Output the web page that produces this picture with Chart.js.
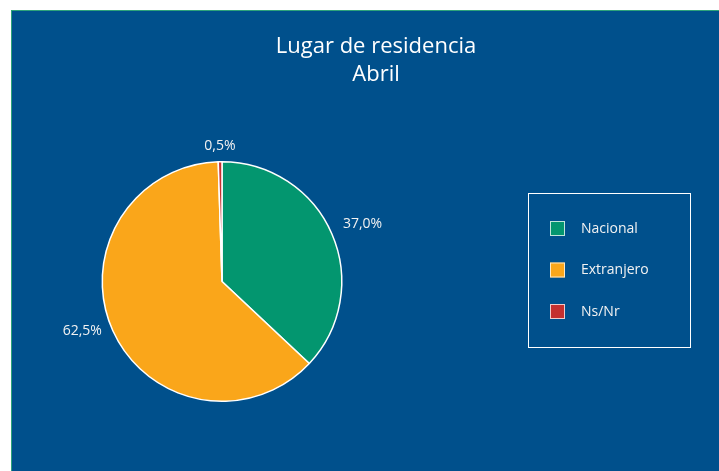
<!DOCTYPE html>
<html>
<head>
<meta charset="utf-8">
<script src="https://cdn.jsdelivr.net/npm/chart.js@4"></script>
<style>
html,body{margin:0;padding:0;background:#fff;}
#wrap{width:719px;height:471px;position:relative;}
</style>
</head>
<body>
<div id="wrap"><canvas id="c"></canvas></div>
<script>
const titleLines = ["Lugar de residencia", "Abril"];
const categories = ["Nacional", "Extranjero", "Ns/Nr"];
const values = [37.0, 62.5, 0.5];
const valueLabels = ["37,0%", "62,5%", "0,5%"];
const colors = ["#03966F", "#FAA61A", "#C4302F"];

const BG = "#00508C";
const FONT = "'Open Sans', 'DejaVu Sans', sans-serif";

const backgroundPlugin = {
  id: "bg",
  beforeDraw(chart) {
    const ctx = chart.ctx;
    const W = chart.width, H = chart.height;
    ctx.save();
    ctx.fillStyle = "#ffffff";
    ctx.fillRect(0, 0, W, H);
    ctx.fillStyle = "#2EA37A";
    ctx.fillRect(11, 10, W - 11, H - 10);
    ctx.fillStyle = BG;
    ctx.fillRect(12, 11, W - 12, H - 11);
    ctx.restore();
  }
};

const overlayPlugin = {
  id: "overlay",
  afterDraw(chart) {
    const ctx = chart.ctx;
    ctx.save();
    // title
    ctx.fillStyle = "#ffffff";
    ctx.font = "22px " + FONT;
    ctx.textAlign = "center";
    ctx.textBaseline = "alphabetic";
    ctx.fillText(titleLines[0], 376, 53);
    ctx.fillText(titleLines[1], 376, 81);

    // value labels
    const meta = chart.getDatasetMeta(0);
    ctx.font = "14px " + FONT;
    ctx.fillStyle = "#f2f2f2";
    meta.data.forEach((arc, i) => {
      const p = arc.getProps(["x", "y", "startAngle", "endAngle", "outerRadius"], true);
      const mid = (p.startAngle + p.endAngle) / 2;
      const r = p.outerRadius + 12;
      const cx = Math.cos(mid), sy = Math.sin(mid);
      const ax = p.x + cx * r, ay = p.y + sy * r;
      if (cx > 0.25) { ctx.textAlign = "left"; ctx.textBaseline = "middle"; ctx.fillText(valueLabels[i], ax, ay - 5); }
      else if (cx < -0.25) { ctx.textAlign = "right"; ctx.textBaseline = "middle"; ctx.fillText(valueLabels[i], ax, ay - 5); }
      else { ctx.textAlign = "center"; ctx.textBaseline = sy < 0 ? "bottom" : "top"; ctx.fillText(valueLabels[i], ax, ay + 3); }
    });

    // legend box
    ctx.strokeStyle = "#ffffff";
    ctx.lineWidth = 1;
    ctx.strokeRect(528.5, 193.5, 162, 154);
    ctx.font = "14px " + FONT;
    ctx.textAlign = "left";
    ctx.textBaseline = "middle";
    categories.forEach((name, i) => {
      const y = 221 + i * 41.5;
      ctx.fillStyle = colors[i];
      ctx.fillRect(550, y, 15, 15);
      ctx.strokeStyle = "rgba(255,255,255,0.75)";
      ctx.strokeRect(550.5, y + 0.5, 14, 14);
      ctx.fillStyle = "#f2f2f2";
      ctx.fillText(name, 581, y + 8);
    });
    ctx.restore();
  }
};

new Chart(document.getElementById("c"), {
  type: "pie",
  data: {
    labels: categories,
    datasets: [{
      data: values,
      backgroundColor: colors,
      borderColor: "#ffffff",
      borderWidth: 1.5
    }]
  },
  options: {
    responsive: true,
    maintainAspectRatio: false,
    animation: false,
    layout: { padding: { left: 101, right: 376, top: 161, bottom: 69 } },
    plugins: {
      legend: { display: false },
      title: { display: false },
      tooltip: { enabled: false }
    }
  },
  plugins: [backgroundPlugin, overlayPlugin]
});
</script>
</body>
</html>
